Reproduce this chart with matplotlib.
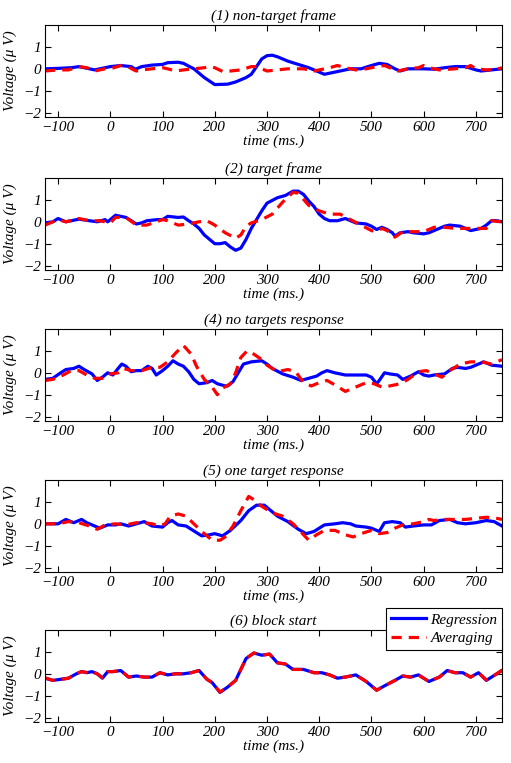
import matplotlib
matplotlib.use("Agg")
import matplotlib.pyplot as plt

# ---------------- data ----------------
titles = ["(1) non-target frame", "(2) target frame", "(4) no targets response",
          "(5) one target response", "(6) block start"]

# panel 1
t1_reg = [-125, -100, -75, -60, -30, 0, 20, 40, 48, 60, 80, 100, 110, 130, 140, 160, 180, 200, 225, 240,
          260, 270, 280, 290, 300, 310, 320, 340, 360, 380, 400, 410, 420, 440, 460, 480, 500, 515, 530,
          545, 555, 570, 600, 620, 640, 660, 680, 700, 710, 730, 750]
v1_reg = [0.0, 0.02, 0.05, 0.1, -0.05, 0.1, 0.15, 0.1, -0.02, 0.1, 0.17, 0.2, 0.28, 0.3, 0.25, 0.0, -0.4,
          -0.72, -0.7, -0.6, -0.4, -0.25, 0.1, 0.45, 0.6, 0.62, 0.55, 0.35, 0.2, 0.05, -0.15, -0.25, -0.2,
          -0.1, 0.0, 0.0, 0.15, 0.25, 0.2, 0.0, -0.1, 0.0, 0.0, -0.02, 0.05, 0.1, 0.1, -0.05, -0.1, -0.05, 0.0]
t1_avg = [-125, -100, -80, -60, -45, -30, -10, 0, 20, 30, 45, 50, 60, 80, 100, 110, 125, 140, 160, 180,
          190, 200, 215, 230, 250, 270, 280, 300, 320, 340, 370, 390, 400, 420, 435, 450, 470, 490, 510,
          525, 540, 550, 570, 590, 600, 610, 630, 660, 680, 690, 700, 720, 740, 750]
v1_avg = [-0.1, -0.05, -0.05, 0.1, 0.05, -0.1, 0.0, 0.0, 0.15, 0.15, -0.05, -0.1, -0.05, 0.0, 0.05, 0.0,
          -0.1, -0.05, 0.0, 0.05, 0.1, 0.05, -0.12, -0.1, -0.05, 0.1, 0.1, -0.1, -0.05, 0.0, 0.0, -0.1,
          -0.05, 0.05, 0.15, 0.05, -0.05, 0.0, 0.1, 0.15, 0.0, -0.1, 0.0, 0.05, 0.15, 0.05, -0.05, 0.0,
          0.05, 0.15, 0.0, -0.05, -0.02, 0.05]

# panel 2
t2_reg = [-125, -110, -100, -85, -60, -40, -25, -10, -5, 10, 30, 50, 60, 70, 90, 100, 110, 130, 140, 150,
          160, 170, 180, 200, 210, 220, 230, 240, 250, 260, 270, 280, 290, 300, 320, 335, 350, 360, 370,
          380, 390, 400, 410, 420, 435, 450, 460, 470, 490, 500, 510, 520, 530, 540, 545, 555, 570, 580,
          600, 610, 620, 640, 650, 670, 690, 700, 710, 720, 730, 740, 750]
v2_reg = [-0.05, 0.0, 0.15, 0.0, 0.12, 0.05, 0.0, 0.1, 0.0, 0.3, 0.2, -0.1, -0.05, 0.05, 0.1, 0.1, 0.25,
          0.2, 0.22, 0.05, -0.1, -0.3, -0.6, -1.0, -1.0, -0.95, -1.15, -1.3, -1.2, -0.8, -0.3, 0.1, 0.5,
          0.85, 1.1, 1.2, 1.4, 1.4, 1.25, 0.95, 0.7, 0.35, 0.15, 0.05, 0.05, 0.15, 0.05, -0.05, -0.1, -0.2,
          -0.35, -0.25, -0.35, -0.5, -0.65, -0.5, -0.45, -0.5, -0.55, -0.5, -0.4, -0.2, -0.15, -0.2, -0.4,
          -0.35, -0.3, -0.15, 0.05, 0.05, 0.0]
t2_avg = [-125, -100, -85, -60, -40, -20, 0, 10, 30, 50, 70, 100, 110, 120, 130, 150, 170, 185, 200, 220,
          240, 250, 260, 270, 290, 310, 330, 350, 360, 380, 400, 420, 440, 460, 480, 500, 510, 520, 530,
          545, 560, 580, 600, 620, 640, 660, 680, 700, 720, 730, 750]
v2_avg = [-0.15, 0.1, 0.0, 0.15, 0.05, 0.05, -0.05, 0.2, 0.2, -0.15, -0.15, 0.1, 0.05, -0.05, -0.15, -0.1,
          0.0, 0.05, -0.15, -0.5, -0.75, -0.6, -0.2, -0.05, 0.1, 0.35, 0.9, 1.35, 1.3, 0.75, 0.5, 0.35,
          0.35, 0.1, -0.15, -0.4, -0.45, -0.3, -0.4, -0.7, -0.45, -0.45, -0.45, -0.25, -0.25, -0.3, -0.3,
          -0.3, -0.3, 0.05, 0.0]

# panel 3
t3_reg = [-125, -110, -95, -85, -70, -60, -50, -35, -25, -15, -5, 5, 15, 22, 30, 40, 50, 60, 72, 80, 88,
          100, 110, 120, 130, 140, 150, 160, 170, 185, 195, 205, 220, 225, 235, 245, 255, 270, 290, 300,
          310, 330, 350, 365, 380, 395, 405, 415, 430, 450, 470, 490, 500, 510, 515, 525, 535, 550, 560,
          575, 590, 600, 610, 620, 640, 655, 665, 680, 690, 700, 715, 730, 750]
v3_reg = [-0.3, -0.25, 0.0, 0.15, 0.2, 0.3, 0.15, -0.05, -0.35, -0.2, 0.0, -0.1, 0.2, 0.4, 0.3, 0.05, 0.1,
          0.1, 0.3, 0.2, -0.1, 0.1, 0.3, 0.55, 0.4, 0.3, 0.05, -0.3, -0.5, -0.45, -0.35, -0.5, -0.6, -0.6,
          -0.4, 0.0, 0.4, 0.5, 0.55, 0.4, 0.2, -0.05, -0.2, -0.35, -0.25, -0.15, 0.0, 0.1, 0.0, -0.1, -0.1,
          -0.1, -0.2, -0.5, -0.35, 0.0, -0.05, -0.1, -0.3, -0.15, 0.05, -0.1, -0.15, -0.1, -0.05, 0.2, 0.25,
          0.2, 0.25, 0.35, 0.5, 0.35, 0.3]
t3_avg = [-125, -110, -90, -75, -60, -45, -30, -15, 0, 15, 25, 40, 60, 80, 95, 110, 125, 140, 155, 165,
          180, 195, 205, 215, 230, 240, 250, 262, 275, 290, 300, 320, 340, 355, 370, 385, 400, 415, 430,
          450, 470, 490, 505, 520, 535, 555, 570, 590, 605, 620, 635, 650, 670, 690, 710, 730, 750]
v3_avg = [-0.35, -0.3, -0.1, 0.1, 0.1, -0.1, -0.25, -0.25, -0.05, 0.0, 0.2, 0.1, 0.1, 0.25, 0.25, 0.5,
          0.9, 1.25, 0.85, 0.3, -0.3, -0.65, -1.0, -0.7, -0.5, 0.0, 0.7, 1.0, 0.85, 0.6, 0.35, 0.05, 0.15,
          0.05, -0.45, -0.6, -0.45, -0.35, -0.55, -0.85, -0.65, -0.45, -0.5, -0.65, -0.6, -0.5, -0.3, 0.05,
          0.1, -0.05, -0.2, 0.1, 0.4, 0.5, 0.5, 0.4, 0.6]

# panel 4
t4_reg = [-125, -100, -85, -70, -55, -45, -30, -20, -5, 10, 20, 35, 50, 65, 80, 100, 110, 118, 130, 145,
          155, 175, 190, 200, 215, 230, 250, 265, 280, 295, 305, 320, 340, 360, 375, 390, 410, 430, 445,
          460, 470, 490, 500, 515, 525, 540, 555, 565, 580, 600, 615, 630, 650, 665, 680, 700, 720, 735, 750]
v4_reg = [0.0, 0.0, 0.2, 0.05, 0.2, 0.05, -0.1, -0.2, -0.05, -0.05, 0.0, -0.1, 0.0, 0.1, -0.1, -0.15, 0.05,
          0.15, -0.05, -0.1, -0.25, -0.55, -0.5, -0.45, -0.55, -0.3, 0.15, 0.6, 0.85, 0.85, 0.65, 0.35,
          0.1, -0.25, -0.45, -0.35, -0.05, 0.0, 0.05, 0.0, -0.1, -0.15, -0.2, -0.35, 0.05, 0.1, 0.05,
          -0.15, -0.1, -0.05, -0.05, 0.15, 0.2, 0.05, 0.0, 0.05, 0.15, 0.1, -0.1]
t4_avg = [-125, -100, -80, -60, -40, -25, -10, 10, 30, 50, 65, 80, 95, 105, 115, 130, 145, 160, 180, 195,
          210, 220, 235, 250, 265, 275, 290, 310, 330, 350, 370, 380, 395, 410, 430, 450, 465, 480, 500,
          515, 530, 545, 560, 580, 600, 610, 620, 640, 660, 680, 700, 720, 740, 750]
v4_avg = [0.0, 0.0, 0.1, 0.05, -0.1, -0.25, -0.05, 0.0, -0.05, 0.05, 0.05, 0.0, -0.1, 0.0, 0.35, 0.45, 0.35,
          0.0, -0.45, -0.75, -0.75, -0.6, -0.1, 0.6, 1.25, 1.1, 0.8, 0.5, 0.35, 0.0, -0.5, -0.75, -0.5,
          -0.3, -0.3, -0.5, -0.6, -0.45, -0.3, -0.45, -0.4, -0.2, -0.05, 0.0, 0.1, 0.2, 0.15, 0.2, 0.2,
          0.2, 0.25, 0.3, 0.25, 0.2]

# panel 5
t5_reg = [-125, -110, -95, -80, -65, -55, -45, -35, -25, -15, -5, 5, 20, 35, 50, 65, 80, 95, 110, 125, 140,
          155, 170, 185, 195, 210, 225, 240, 250, 260, 275, 290, 305, 320, 335, 350, 370, 390, 405, 420,
          435, 450, 470, 490, 510, 525, 545, 560, 575, 590, 610, 630, 645, 660, 675, 690, 705, 720, 740, 750]
v5_reg = [-0.2, -0.3, -0.25, -0.2, 0.0, 0.1, 0.05, 0.1, 0.0, -0.2, 0.1, 0.1, 0.15, -0.15, -0.1, -0.15,
          -0.15, 0.05, -0.05, 0.0, 0.0, 0.05, 0.15, -0.25, -0.4, -0.85, -0.6, -0.3, 0.2, 0.7, 0.95, 0.85,
          0.9, 0.5, 0.45, 0.2, 0.2, 0.05, 0.05, -0.05, -0.2, -0.15, -0.05, -0.35, -0.75, -0.55, -0.3,
          -0.1, -0.15, -0.05, -0.35, -0.15, 0.15, 0.05, 0.05, -0.15, 0.05, -0.3, 0.0, 0.15]
t5_avg = t5_reg
v5_avg = [-0.18, -0.3, -0.26, -0.2, 0.0, 0.1, 0.06, 0.1, 0.0, -0.18, 0.1, 0.1, 0.15, -0.15, -0.1, -0.15,
          -0.15, 0.05, -0.05, 0.0, 0.0, 0.05, 0.15, -0.25, -0.4, -0.83, -0.6, -0.3, 0.2, 0.7, 0.95, 0.85,
          0.9, 0.5, 0.45, 0.2, 0.2, 0.05, 0.05, -0.05, -0.2, -0.15, -0.05, -0.35, -0.75, -0.55, -0.3,
          -0.1, -0.15, -0.05, -0.35, -0.15, 0.15, 0.05, 0.05, -0.15, 0.05, -0.28, 0.0, 0.17]

series = [(t1_reg, v1_reg, t1_avg, v1_avg),
          (t2_reg, v2_reg, t2_avg, v2_avg),
          (t3_reg, v3_reg, t3_avg, v3_avg),
          (t4_reg, v4_reg, t4_avg, v4_avg),
          (t5_reg, v5_reg, t5_avg, v5_avg)]

xticks = [-100, 0, 100, 200, 300, 400, 500, 600, 700]
yticks = [-2, -1, 0, 1]
legend_labels = ["Regression", "Averaging"]

# ---------------- drawing ----------------
plt.rcParams['font.family'] = ['Liberation Serif', 'DejaVu Serif']
plt.rcParams['font.style'] = 'italic'

W, H = 511, 763
fig = plt.figure(figsize=(W / 100, H / 100), dpi=100)
tops = [25, 178, 329, 480, 630]
ax_h = 92
left, right = 45, 502
fs = 11

for i, (tr, vr, ta, va) in enumerate(series):
    ax = fig.add_axes([left / W, 1 - (tops[i] + ax_h) / H, (right - left) / W, ax_h / H])
    l1, = ax.plot(tr, vr, color='#0000ff', lw=2.3, solid_joinstyle='round')
    l2, = ax.plot(ta, va, color='#ff0000', lw=2.3, ls=(0, (3.2, 2.2)))
    ax.set_xlim(-125, 750)
    ax.set_ylim(-2.2, 2.0)
    ax.set_xticks(xticks)
    ax.set_yticks(yticks)
    ax.tick_params(direction='in', top=True, right=True, length=4, width=0.8,
                   labelsize=fs, pad=3)
    for lab in ax.get_xticklabels() + ax.get_yticklabels():
        lab.set_fontstyle('italic')
    ax.set_title(titles[i], fontsize=fs, style='italic', pad=4)
    ax.set_xlabel("time (ms.)", fontsize=fs, style='italic', labelpad=0)
    ax.set_ylabel("Voltage (\u03bc V)", fontsize=fs, style='italic', labelpad=4)
    for s in ax.spines.values():
        s.set_linewidth(0.8)
    if i == 4:
        leg = ax.legend([l1, l2], legend_labels, loc='upper right',
                        bbox_to_anchor=(1.0, 1.235), fontsize=fs, frameon=True,
                        fancybox=False, edgecolor='black', framealpha=1,
                        handlelength=2.3, borderpad=0.3, labelspacing=0.3,
                        handletextpad=0.3, borderaxespad=0)
        leg.get_frame().set_linewidth(0.8)

fig.savefig("out.png", dpi=100)
